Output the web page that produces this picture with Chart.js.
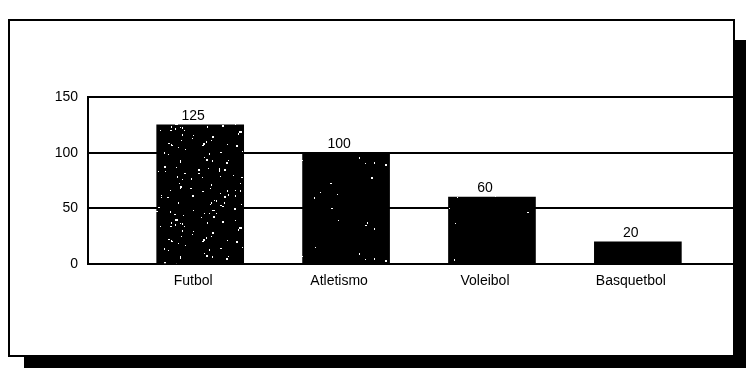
<!DOCTYPE html>
<html>
<head>
<meta charset="utf-8">
<script src="https://cdn.jsdelivr.net/npm/chart.js@4/dist/chart.umd.min.js"></script>
<style>
  html, body { margin: 0; padding: 0; background: #fff; }
  #wrap { position: relative; width: 751px; height: 377px; overflow: hidden; }
  #shadow { position: absolute; left: 24px; top: 40px; width: 722px; height: 328px; background: #000; }
  #frame { position: absolute; left: 8px; top: 19px; width: 723px; height: 334px; border: 2px solid #000; background: #fff; }
  #c { position: absolute; left: 0; top: 0; }
</style>
</head>
<body>
<div id="wrap">
  <div id="shadow"></div>
  <div id="frame"></div>
  <canvas id="c" width="751" height="377"></canvas>
</div>
<script>
// Sports and the number of people who chose each one
const categories = ['Futbol', 'Atletismo', 'Voleibol', 'Basquetbol'];
const values = [125, 100, 60, 20];
const yTicks = [0, 50, 100, 150];

// Speckled black fill for the bars (fixed seed so the texture is stable)
function speckle(count, seed) {
  const size = 96;
  const cv = document.createElement('canvas');
  cv.width = size; cv.height = size;
  const g = cv.getContext('2d');
  g.fillStyle = '#000';
  g.fillRect(0, 0, size, size);
  let s = seed;
  const rnd = () => { s = (s * 1103515245 + 12345) % 2147483648; return s / 2147483648; };
  g.fillStyle = '#fff';
  for (let i = 0; i < count; i++) {
    const w = rnd() < 0.3 ? 2 : 1;
    const h = rnd() < 0.4 ? 2 : 1;
    g.fillRect(Math.floor(rnd() * size), Math.floor(rnd() * size), w, h);
  }
  return g.createPattern(cv, 'repeat');
}
const fills = [speckle(120, 7), speckle(18, 11), speckle(14, 23), speckle(6, 31)];

const FONT = 'Liberation Sans, Arial, Helvetica, sans-serif';

// Writes each bar's value just above it
const valueLabels = {
  id: 'valueLabels',
  afterDatasetsDraw(chart) {
    const ctx = chart.ctx;
    const meta = chart.getDatasetMeta(0);
    ctx.save();
    ctx.fillStyle = '#000';
    ctx.font = '14px ' + FONT;
    ctx.textAlign = 'center';
    ctx.textBaseline = 'bottom';
    meta.data.forEach((bar, i) => {
      ctx.fillText(String(values[i]), bar.x - 7, bar.y - 2);
    });
    ctx.restore();
  }
};

new Chart(document.getElementById('c'), {
  type: 'bar',
  data: {
    datasets: [{
      data: values.map((v, i) => ({ x: i + 1, y: v })),
      backgroundColor: fills,
      borderWidth: 0,
      barThickness: 87
    }]
  },
  options: {
    responsive: false,
    animation: false,
    layout: { padding: { left: 40, right: 17, top: 97, bottom: 83 } },
    plugins: { legend: { display: false }, tooltip: { enabled: false } },
    scales: {
      x: {
        type: 'linear',
        offset: false,
        min: 0.231,
        max: 4.659,
        afterFit: s => { s.height = 30; },
        afterBuildTicks: s => { s.ticks = categories.map((c, i) => ({ value: i + 1 })); },
        grid: { display: false },
        border: { display: true, color: '#000', width: 2 },
        ticks: {
          color: '#000',
          font: { family: FONT, size: 14 },
          padding: 1,
          labelOffset: -7,
          autoSkip: false,
          maxRotation: 0,
          callback: v => categories[v - 1]
        }
      },
      y: {
        min: 0,
        max: 150,
        afterFit: s => { s.width = 48; },
        afterBuildTicks: s => { s.ticks = yTicks.map(v => ({ value: v })); },
        grid: { color: '#000', lineWidth: 2, drawTicks: false },
        border: { display: true, color: '#000', width: 2 },
        ticks: {
          color: '#000',
          font: { family: FONT, size: 14 },
          padding: 10
        }
      }
    }
  },
  plugins: [valueLabels]
});
</script>
</body>
</html>
